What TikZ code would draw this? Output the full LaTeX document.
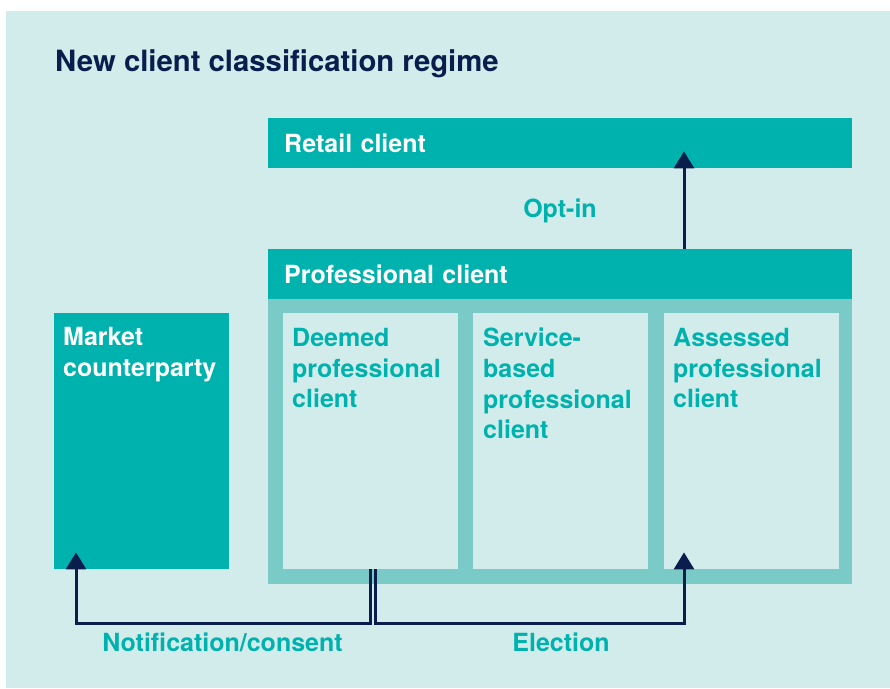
\documentclass[tikz,border=0pt]{standalone}
\usepackage{fontspec}
\setmainfont{TeX Gyre Heros}
\usetikzlibrary{arrows.meta}

\definecolor{mint}{RGB}{210,236,236}
\definecolor{sea}{RGB}{0,178,173}
\definecolor{seapale}{RGB}{122,202,200}
\definecolor{navy}{RGB}{10,30,78}

\begin{document}
\begin{tikzpicture}[x=1pt,y=-1pt,>={Triangle[width=20pt,length=17pt]},
  bar/.style={fill=sea,text=white,font=\fontsize{25}{30.7}\selectfont\bfseries,
    text width=552,inner xsep=16,inner ysep=0,minimum height=50,align=left,anchor=north west},
  pane/.style={fill=mint,minimum width=175,minimum height=256,inner sep=0,anchor=north west},
  panetext/.style={text=sea,font=\fontsize{25}{30.7}\selectfont\bfseries,
    align=left,inner sep=0,anchor=north west},
  note/.style={text=sea,font=\fontsize{25}{30}\selectfont\bfseries,inner sep=0,anchor=base},
  flow/.style={->,navy,line width=3pt,shorten >=-17pt}]
\useasboundingbox (0,0) rectangle (890,688);
\fill[mint] (6,11) rectangle (890,688);

\node[anchor=base west,inner sep=0,text=navy,font=\fontsize{29.3}{34}\selectfont\bfseries]
  (title) at (55,71.7) {New client classification regime};

% top bars and the professional frame
\node[bar] (retail) at (268,118) {Retail client};
\node[bar] (pro) at (268,249) {Professional client};
\node[fill=seapale,minimum width=584,minimum height=285,inner sep=0,anchor=north west]
  (proframe) at (268,299) {};

% the four columns
\node[pane,fill=sea] (market) at (54,313) {};
\node[pane] (deemed) at (283,313) {};
\node[pane] (service) at (473,313) {};
\node[pane] (assessed) at (664,313) {};
\node[panetext,text=white] at ([shift={(9,14)}]market.north west) {Market\\counterparty};
\node[panetext] at ([shift={(9,15)}]deemed.north west) {Deemed\\professional\\client};
\node[panetext] at ([shift={(10,15)}]service.north west) {Service-\\based\\professional\\client};
\node[panetext] at ([shift={(9,15)}]assessed.north west) {Assessed\\professional\\client};

% routes between the classes
\coordinate (optx) at (684,0);
\draw[flow] (pro.north -| optx) -- (retail.south -| optx);
\draw[flow] (deemed.south) -- ++(0,54) -| ([xshift=22]market.south west);
\draw[flow] ([xshift=5]deemed.south) -- ++(0,54) -| ([xshift=20]assessed.south west);

\node[note] (optin) at (560,217.7) {Opt-in};
\node[note] (notif) at (222.5,651.7) {Notification/consent};
\node[note] (elect) at (561,651.7) {Election};
\end{tikzpicture}
\end{document}
